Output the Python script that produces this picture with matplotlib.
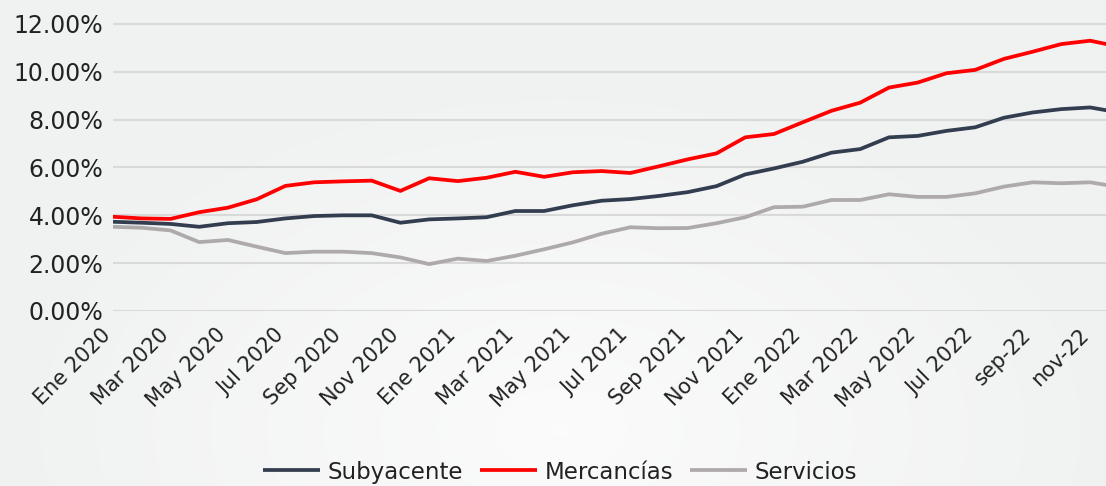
import numpy as np
import matplotlib
matplotlib.use("Agg")
import matplotlib.pyplot as plt
import matplotlib.transforms as mtransforms

# ---- data (percent) ----
months = ["Ene 2020", "Feb 2020", "Mar 2020", "Abr 2020", "May 2020", "Jun 2020",
          "Jul 2020", "Ago 2020", "Sep 2020", "Oct 2020", "Nov 2020", "Dic 2020",
          "Ene 2021", "Feb 2021", "Mar 2021", "Abr 2021", "May 2021", "Jun 2021",
          "Jul 2021", "Ago 2021", "Sep 2021", "Oct 2021", "Nov 2021", "Dic 2021",
          "Ene 2022", "Feb 2022", "Mar 2022", "Abr 2022", "May 2022", "Jun 2022",
          "Jul 2022", "ago-22", "sep-22", "oct-22", "nov-22", "dic-22"]

subyacente = [3.73, 3.69, 3.64, 3.52, 3.67, 3.72, 3.87, 3.97, 4.00, 4.00, 3.69, 3.83,
              3.87, 3.92, 4.18, 4.18, 4.42, 4.61, 4.68, 4.81, 4.97, 5.22,
              5.71, 5.96, 6.24, 6.62, 6.77, 7.26, 7.32, 7.53, 7.68, 8.08,
              8.30, 8.44, 8.51, 8.30]
mercancias = [3.94, 3.87, 3.85, 4.13, 4.32, 4.67, 5.23, 5.38, 5.42, 5.45, 5.02, 5.55,
              5.43, 5.57, 5.82, 5.61, 5.80, 5.85, 5.77, 6.05, 6.34, 6.59,
              7.26, 7.40, 7.89, 8.37, 8.71, 9.34, 9.55, 9.94, 10.08, 10.54,
              10.84, 11.16, 11.30, 11.05]
servicios = [3.52, 3.48, 3.37, 2.88, 2.97, 2.69, 2.42, 2.48, 2.48, 2.42, 2.24, 1.96,
             2.19, 2.09, 2.31, 2.58, 2.87, 3.23, 3.50, 3.46, 3.47, 3.67,
             3.92, 4.34, 4.36, 4.64, 4.64, 4.88, 4.77, 4.77, 4.92, 5.20,
             5.38, 5.34, 5.38, 5.18]

tick_idx = list(range(0, 36, 2))
tick_labels = ["Ene 2020", "Mar 2020", "May 2020", "Jul 2020", "Sep 2020", "Nov 2020",
               "Ene 2021", "Mar 2021", "May 2021", "Jul 2021", "Sep 2021", "Nov 2021",
               "Ene 2022", "Mar 2022", "May 2022", "Jul 2022", "sep-22", "nov-22"]
y_ticks = [0, 2, 4, 6, 8, 10, 12]

series_names = ["Subyacente", "Mercancías", "Servicios"]
colors = ["#323E4F", "#FF0000", "#AEAAAA"]

# ---- figure ----
W, H = 1106, 486
fig = plt.figure(figsize=(W / 100, H / 100), dpi=100)
fig.patch.set_facecolor("#F2F2F2")

# subtle radial background
bg = fig.add_axes([0, 0, 1, 1], zorder=-10)
yy, xx = np.mgrid[0:H, 0:W]
r = np.sqrt(((xx - 560) / 520.0) ** 2 + ((yy - 430) / 330.0) ** 2)
t = np.clip(1 - r, 0, 1)
lo = np.array([0.945, 0.949, 0.949])
hi = np.array([0.985, 0.985, 0.985])
img = lo + (hi - lo) * t[..., None]
bg.imshow(img, aspect="auto", extent=[0, 1, 0, 1])
bg.axis("off")

px_per_month = 28.74
left = 113 / W
width = 35 * px_per_month / W
px_per_pct = 23.92
ymax = 12.5
bottom = (H - 311) / H
height = ymax * px_per_pct / H
ax = fig.add_axes([left, bottom, width, height])
ax.set_facecolor("none")

x = np.arange(len(months))
for vals, name, c in zip([subyacente, mercancias, servicios], series_names, colors):
    ax.plot(x, vals, color=c, lw=2.7, label=name, solid_joinstyle="round",
            solid_capstyle="butt", zorder=3)

ax.set_xlim(0, 35)
ax.set_ylim(0, ymax)
ax.set_yticks(y_ticks)
ax.set_yticklabels([f"{v:.2f}%" for v in y_ticks])
ax.set_xticks(tick_idx)
ax.set_xticklabels(tick_labels, rotation=45, ha="right", va="center",
                   rotation_mode="anchor")
ax.grid(axis="y", color="#D9D9D9", lw=1.5, zorder=0)
ax.grid(axis="x", visible=False)
for s in ax.spines.values():
    s.set_visible(False)
ax.tick_params(axis="y", length=0, pad=7, labelsize=17, labelcolor="#222222")
ax.tick_params(axis="x", length=0, pad=15, labelsize=15, labelcolor="#222222")
offset = mtransforms.ScaledTranslation(-5 / 100, 0, fig.dpi_scale_trans)
for lab in ax.get_xticklabels():
    lab.set_transform(lab.get_transform() + offset)

leg = fig.legend(loc="center", bbox_to_anchor=(560 / W, 1 - 472 / H), ncol=3,
                 frameon=False, fontsize=16.5, handlelength=2.5, handletextpad=0.35,
                 columnspacing=0.7, labelcolor="#222222")

fig.savefig("out.png", dpi=100, facecolor=fig.get_facecolor())
